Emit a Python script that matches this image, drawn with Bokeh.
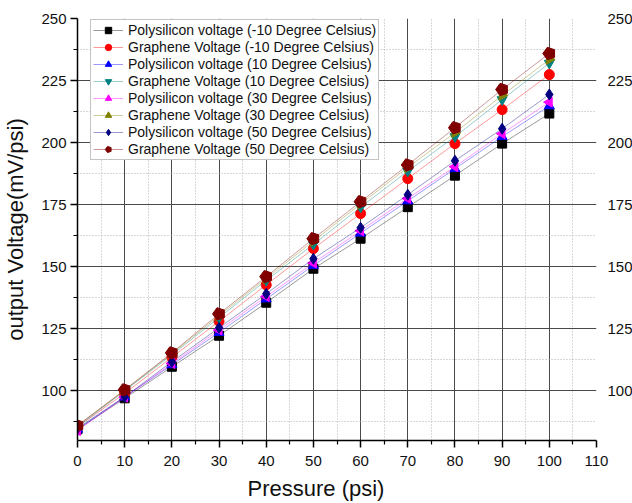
import math
from bokeh.plotting import figure
from bokeh.models import (Range1d, LinearAxis, FixedTicker, Legend, LegendItem,
                          ColumnDataSource, Title)
from bokeh.embed import file_html
from bokeh.resources import INLINE

pressure = [0, 10, 20, 30, 40, 50, 60, 70, 80, 90, 100]
poly_m10 = [84.5, 97.0, 109.7, 122.2, 135.5, 149.2, 161.3, 174.0, 186.7, 199.6, 211.7]
graph_m10 = [85.5, 99.0, 113.5, 128.0, 142.7, 157.3, 171.4, 185.5, 199.6, 213.3, 227.4]
poly_10 = [84.5, 97.5, 110.5, 123.5, 137.0, 150.5, 163.5, 176.5, 189.5, 202.4, 214.8]
graph_10 = [85.5, 100.0, 114.5, 129.5, 144.5, 159.0, 174.0, 188.5, 202.4, 217.3, 232.0]
poly_30 = [84.0, 97.5, 111.0, 124.5, 138.0, 151.5, 164.5, 177.5, 190.3, 203.6, 216.3]
graph_30 = [86.0, 100.2, 115.0, 130.3, 145.3, 160.3, 175.3, 190.0, 204.0, 219.0, 233.5]
poly_50 = [85.0, 97.6, 111.7, 125.4, 139.1, 153.2, 165.7, 179.0, 192.7, 205.6, 219.4]
graph_50 = [86.0, 100.4, 115.3, 131.0, 146.0, 161.3, 176.2, 191.0, 206.0, 221.4, 235.9]

labels = [
    "Polysilicon voltage (-10 Degree Celsius)",
    "Graphene Voltage (-10 Degree Celsius)",
    "Polysilicon voltage (10 Degree Celsius)",
    "Graphene Voltage (10 Degree Celsius)",
    "Polysilicon voltage (30 Degree Celsius)",
    "Graphene Voltage (30 Degree Celsius)",
    "Polysilicon voltage (50 Degree Celsius)",
    "Graphene Voltage (50 Degree Celsius)",
]
series = [poly_m10, graph_m10, poly_10, graph_10, poly_30, graph_30, poly_50, graph_50]
colors = ["#000000", "#FF0000", "#0000FF", "#008080", "#FF00FF", "#808000", "#000080", "#800000"]
markers = ["square", "circle", "triangle", "inverted_triangle", "triangle", "triangle", "diamond", "pentagon"]
angles = [0, 0, 0, 0, math.pi / 2, -math.pi / 2, 0, 0]
sizes = [9, 10, 10, 10, 10, 10, 11, 11]

x_ticks = [0, 10, 20, 30, 40, 50, 60, 70, 80, 90, 100, 110]
y_ticks = [100, 125, 150, 175, 200, 225, 250]

FONT = "Liberation Sans"

p = figure(width=616, height=495, output_backend="svg", toolbar_location=None,
           x_range=Range1d(0, 110), y_range=Range1d(80, 250),
           min_border_left=69, min_border_top=18, min_border_right=28,
           min_border_bottom=55, frame_width=519, frame_height=422,
           y_axis_label="output Voltage(mV/psi)")
p.outline_line_color = None
p.background_fill_color = "white"

# axes
xa = p.xaxis[0]
xa.ticker = FixedTicker(ticks=x_ticks, minor_ticks=[5 + 10 * i for i in range(11)])
ya = p.yaxis[0]
ya.ticker = FixedTicker(ticks=y_ticks, minor_ticks=[87.5 + 25 * i for i in range(7)])
for ax in (xa, ya):
    ax.axis_line_color = "#000000"
    ax.axis_line_width = 1.5
    ax.major_tick_in = 0
    ax.major_tick_out = 7
    ax.minor_tick_in = 0
    ax.minor_tick_out = 4
    ax.major_tick_line_width = 1.5
    ax.minor_tick_line_width = 1.2
    ax.major_label_text_font = FONT
    ax.major_label_text_font_size = "15px"
    ax.major_label_text_color = "#111111"
    ax.axis_label_text_font = FONT
    ax.axis_label_text_font_size = "22px"
    ax.axis_label_text_font_style = "normal"
    ax.axis_label_text_color = "#111111"
xa.major_label_standoff = 8
ya.major_label_standoff = 4
ya.axis_label_standoff = 10

ra = LinearAxis(ticker=FixedTicker(ticks=y_ticks))
ra.axis_line_color = None
ra.major_tick_line_color = None
ra.minor_tick_line_color = None
ra.major_label_standoff = 5
ra.major_label_text_font = FONT
ra.major_label_text_font_size = "15px"
ra.major_label_text_color = "#111111"
p.add_layout(ra, "right")

xtitle = Title(text="Pressure (psi)", align="left", offset=170,
               text_font=FONT, text_font_size="22px", text_font_style="normal",
               text_color="#111111", standoff=10)
p.add_layout(xtitle, "below")

# grids
p.xgrid.ticker = FixedTicker(ticks=[10, 20, 30, 40, 50, 60, 70, 80, 90, 100],
                             minor_ticks=[5 + 10 * i for i in range(11)])
p.ygrid.ticker = FixedTicker(ticks=[100, 125, 150, 175, 200, 225],
                             minor_ticks=[87.5 + 25 * i for i in range(7)])
for g in (p.xgrid, p.ygrid):
    g.grid_line_color = "#4a4a4a"
    g.grid_line_width = 1
    g.minor_grid_line_color = "#b0b0b0"
    g.minor_grid_line_dash = "1 2"
    g.minor_grid_line_width = 1

items = []
for lab, ys, col, mk, ang, sz in zip(labels, series, colors, markers, angles, sizes):
    src = ColumnDataSource(dict(x=pressure, y=ys))
    lr = p.line("x", "y", source=src, line_color=col, line_width=0.8, line_alpha=0.5)
    if mk == "pentagon":
        try:
            mr = p.ngon("x", "y", source=src, radius=6.5, radius_units="screen", n=5,
                        angle=math.pi / 2, fill_color=col, line_color=col)
        except Exception:
            mr = p.scatter("x", "y", source=src, marker="hex", size=sz,
                           fill_color=col, line_color=col)
    else:
        mr = p.scatter("x", "y", source=src, marker=mk, size=sz, angle=ang,
                       fill_color=col, line_color=col)
    items.append(LegendItem(label=lab, renderers=[lr, mr]))

legend = Legend(items=items, location=(13, 280))
legend.label_text_font = FONT
legend.label_text_font_size = "14px"
legend.label_text_color = "#111111"
legend.glyph_width = 30
legend.glyph_height = 16
legend.label_height = 16
legend.spacing = 1
legend.padding = 2
legend.margin = 0
legend.label_standoff = 5
legend.border_line_color = "#888888"
legend.border_line_width = 1
legend.background_fill_color = "white"
legend.background_fill_alpha = 1
p.add_layout(legend, "center")

open("out.html", "w").write(file_html(p, INLINE))
